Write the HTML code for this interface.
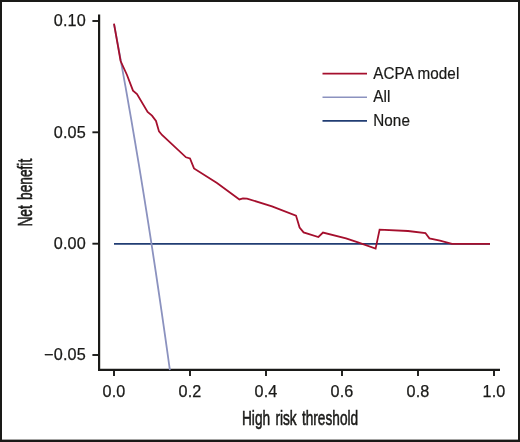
<!DOCTYPE html>
<html lang="en">
<head>
<meta charset="utf-8">
<title>Decision curve analysis</title>
<style>
html,body{margin:0;padding:0;background:#fff;}
body{width:520px;height:442px;overflow:hidden;}
svg{display:block;will-change:transform;}
text{font-family:"Liberation Sans",Arial,Helvetica,sans-serif;fill:#1a1a18;}
.tk{font-size:16.2px;stroke:#1a1a18;stroke-width:0.25px;letter-spacing:0.2px;}
.lg{font-size:16px;stroke:#1a1a18;stroke-width:0.2px;letter-spacing:0.1px;}
.ax{font-size:19.8px;stroke:#1a1a18;stroke-width:0.5px;vector-effect:non-scaling-stroke;word-spacing:2.2px;}
</style>
</head>
<body>
<svg width="520" height="442" viewBox="0 0 520 442">
<rect x="0" y="0" width="520" height="442" fill="#1a1a18"/>
<rect x="2" y="2" width="516" height="437.6" fill="#ffffff"/>
<line x1="114" y1="243.8" x2="490" y2="243.8" stroke="#213d73" stroke-width="1.7"/>
<path d="M99.1,14.6 V369.8 H500" fill="none" stroke="#1a1a18" stroke-width="2.2" stroke-linejoin="miter"/>
<line x1="92.4" y1="21.0" x2="99" y2="21.0" stroke="#1a1a18" stroke-width="1.9"/>
<text class="tk" x="86" y="26.4" text-anchor="end">0.10</text>
<line x1="92.4" y1="132.3" x2="99" y2="132.3" stroke="#1a1a18" stroke-width="1.9"/>
<text class="tk" x="86" y="137.7" text-anchor="end">0.05</text>
<line x1="92.4" y1="243.7" x2="99" y2="243.7" stroke="#1a1a18" stroke-width="1.9"/>
<text class="tk" x="86" y="249.1" text-anchor="end">0.00</text>
<line x1="92.4" y1="355.0" x2="99" y2="355.0" stroke="#1a1a18" stroke-width="1.9"/>
<text class="tk" x="86" y="360.4" text-anchor="end">−0.05</text>
<line x1="114.0" y1="370" x2="114.0" y2="375.9" stroke="#1a1a18" stroke-width="1.9"/>
<text class="tk" x="114.0" y="397" text-anchor="middle">0.0</text>
<line x1="190.0" y1="370" x2="190.0" y2="375.9" stroke="#1a1a18" stroke-width="1.9"/>
<text class="tk" x="190.0" y="397" text-anchor="middle">0.2</text>
<line x1="266.0" y1="370" x2="266.0" y2="375.9" stroke="#1a1a18" stroke-width="1.9"/>
<text class="tk" x="266.0" y="397" text-anchor="middle">0.4</text>
<line x1="342.0" y1="370" x2="342.0" y2="375.9" stroke="#1a1a18" stroke-width="1.9"/>
<text class="tk" x="342.0" y="397" text-anchor="middle">0.6</text>
<line x1="418.0" y1="370" x2="418.0" y2="375.9" stroke="#1a1a18" stroke-width="1.9"/>
<text class="tk" x="418.0" y="397" text-anchor="middle">0.8</text>
<line x1="494.0" y1="370" x2="494.0" y2="375.9" stroke="#1a1a18" stroke-width="1.9"/>
<text class="tk" x="494.0" y="397" text-anchor="middle">1.0</text>
<polyline points="114.0,24.1 115.9,34.2 117.8,44.4 119.7,54.7 121.6,65.1 123.5,75.6 125.4,86.2 127.3,96.9 129.2,107.8 131.1,118.7 133.0,129.8 134.9,141.0 136.8,152.3 138.7,163.7 140.6,175.2 142.5,186.9 144.4,198.7 146.3,210.6 148.2,222.7 150.1,234.8 152.0,247.2 153.9,259.6 155.8,272.2 157.7,285.0 159.6,297.8 161.5,310.9 163.4,324.1 165.3,337.4 167.2,350.9 169.1,364.5 169.9,370.0" fill="none" stroke="#8b92bf" stroke-width="1.8" stroke-linejoin="round"/>
<polyline points="114.0,23.6 120.6,61.0 127.0,75.0 133.0,90.6 137.0,94.0 147.6,112.0 152.0,115.6 156.0,121.0 159.0,131.4 162.0,135.0 186.0,157.3 190.0,158.5 194.0,168.4 217.0,183.0 239.4,199.4 243.0,198.4 247.0,198.6 272.0,206.4 296.0,215.6 299.6,227.6 303.6,232.4 318.4,237.0 323.0,232.6 346.0,238.4 358.0,242.4 375.6,248.6 379.6,229.6 408.0,231.0 425.4,233.0 429.4,238.4 440.0,240.6 452.0,243.8 490.0,243.8" fill="none" stroke="#a50f2d" stroke-width="1.8" stroke-linejoin="miter" stroke-miterlimit="6" stroke-linecap="butt"/>
<line x1="322.5" y1="73.6" x2="367" y2="73.6" stroke="#a50f2d" stroke-width="1.6"/>
<text class="lg" transform="translate(373.2,78.5) scale(0.953,1)">ACPA model</text>
<line x1="322.5" y1="97.2" x2="367" y2="97.2" stroke="#8b92bf" stroke-width="1.5"/>
<text class="lg" transform="translate(373.2,102.1) scale(0.953,1)">All</text>
<line x1="322.5" y1="120.8" x2="367" y2="120.8" stroke="#213d73" stroke-width="1.8"/>
<text class="lg" transform="translate(373.2,125.7) scale(0.953,1)">None</text>
<text class="ax" transform="translate(242.0,424.6) scale(0.69,1)" x="0" y="0">High risk threshold</text>
<text class="ax" transform="translate(31.5,226.6) rotate(-90) scale(0.693,1)" x="0" y="0">Net benefit</text>
</svg>
</body>
</html>
